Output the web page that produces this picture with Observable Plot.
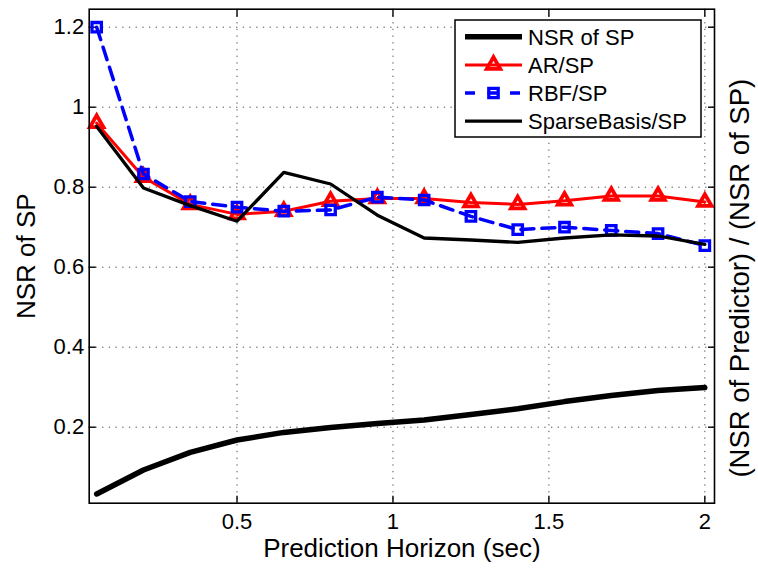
<!DOCTYPE html>
<html><head><meta charset="utf-8">
<script src="https://cdn.jsdelivr.net/npm/d3@7"></script>
<script src="https://cdn.jsdelivr.net/npm/@observablehq/plot@0.6"></script>
<style>
body{margin:0;background:#fff}
svg{font-family:"Liberation Sans",Arial,Helvetica,sans-serif}
</style>
</head><body><div id="chart"></div>
<script>
// ---- data ----
const horizon   = [0.05, 0.2, 0.35, 0.5, 0.65, 0.8, 0.95, 1.1, 1.25, 1.4, 1.55, 1.7, 1.85, 2.0];
const nsrSP     = [0.033, 0.093, 0.137, 0.168, 0.187, 0.199, 0.209, 0.218, 0.232, 0.246, 0.264, 0.279, 0.292, 0.299];
const arSP      = [0.960, 0.825, 0.757, 0.732, 0.740, 0.765, 0.772, 0.772, 0.762, 0.757, 0.766, 0.778, 0.778, 0.763];
const rbfSP     = [1.200, 0.833, 0.764, 0.750, 0.740, 0.743, 0.775, 0.768, 0.727, 0.694, 0.700, 0.692, 0.684, 0.654];
const sparseSP  = [0.952, 0.798, 0.754, 0.715, 0.837, 0.808, 0.730, 0.673, 0.668, 0.662, 0.673, 0.681, 0.678, 0.657];
const seriesNames = ["NSR of SP", "AR/SP", "RBF/SP", "SparseBasis/SP"];
const xTicks = [0.5, 1, 1.5, 2];
const xTickLabels = ["0.5", "1", "1.5", "2"];
const yTicks = [0.2, 0.4, 0.6, 0.8, 1, 1.2];
const yTickLabels = ["0.2", "0.4", "0.6", "0.8", "1", "1.2"];
const xLabel = "Prediction Horizon (sec)";
const yLabel = "NSR of SP";
const y2Label = "(NSR of Predictor) / (NSR of SP)";

// ---- build ----
const W = 758, H = 571;
const rows = ys => horizon.map((x, i) => ({x, y: ys[i]}));
const xFmt = d => xTickLabels[xTicks.indexOf(d)];
const yFmt = d => yTickLabels[yTicks.indexOf(d)];
const gridStyle = {stroke: "#222", strokeOpacity: 0.8, strokeWidth: 1, strokeDasharray: "1.3,5.4"};
const tickStyle = {stroke: "#000", strokeWidth: 1.4, fill: "none", tickFormat: () => "", label: null};
const triR = 5.0, triW = 3.8, sqR = 5.3, sqW = 3.3;

const plot = Plot.plot({
  width: W, height: H,
  marginLeft: 88.7, marginRight: 44, marginTop: 8.7, marginBottom: 68.3,
  x: {domain: [0.026, 2.031], label: null},
  y: {domain: [0.01, 1.245], label: null},
  style: {fontFamily: '"Liberation Sans",Arial,Helvetica,sans-serif', color: "#000", background: "#fff", overflow: "visible"},
  marks: [
    Plot.gridX(xTicks, gridStyle),
    Plot.gridY(yTicks, gridStyle),
    Plot.axisX(xTicks, {anchor: "bottom", tickSize: 0, tickPadding: 10, tickFormat: xFmt, fontSize: 22, label: null}),
    Plot.axisY(yTicks, {anchor: "left", tickSize: 0, tickPadding: 5, tickFormat: yFmt, fontSize: 22, label: null}),
    Plot.axisX(xTicks, {anchor: "bottom", tickSize: 7, insetBottom: 7, ...tickStyle}),
    Plot.axisX(xTicks, {anchor: "top", tickSize: 7, insetTop: 7, ...tickStyle}),
    Plot.axisY(yTicks, {anchor: "left", tickSize: 7, insetLeft: 7, ...tickStyle}),
    Plot.axisY(yTicks, {anchor: "right", tickSize: 7, insetRight: 7, ...tickStyle}),
    Plot.line(rows(nsrSP), {x: "x", y: "y", stroke: "#000", strokeWidth: 5.5}),
    Plot.line(rows(arSP), {x: "x", y: "y", stroke: "#ff0000", strokeWidth: 3}),
    Plot.dot(rows(arSP), {x: "x", y: "y", symbol: "triangle", r: triR, stroke: "#ff0000", strokeWidth: triW, fill: "none"}),
    Plot.line(rows(rbfSP), {x: "x", y: "y", stroke: "#0000ff", strokeWidth: 3.5, strokeDasharray: "13,8"}),
    Plot.dot(rows(rbfSP), {x: "x", y: "y", symbol: "square", r: sqR, stroke: "#0000ff", strokeWidth: sqW, fill: "none"}),
    Plot.line(rows(sparseSP), {x: "x", y: "y", stroke: "#000", strokeWidth: 3.3}),
    Plot.frame({stroke: "#000", strokeWidth: 1.6}),
    Plot.text([xLabel], {frameAnchor: "bottom", text: d => d, dy: 45.5, textAnchor: "middle", lineAnchor: "middle", fontSize: 26, fill: "#000"}),
    Plot.text([yLabel], {frameAnchor: "left", text: d => d, dx: -63, rotate: -90, textAnchor: "middle", lineAnchor: "middle", fontSize: 26, fill: "#000"}),
    Plot.text([y2Label], {frameAnchor: "right", text: d => d, dx: 26, dy: 22, rotate: -90, textAnchor: "middle", lineAnchor: "middle", fontSize: 27.5, fill: "#000"})
  ]
});
document.getElementById("chart").appendChild(plot);

// ---- legend (decoration, drawn in the same svg) ----
const svg = d3.select(plot);
const lg = svg.append("g").attr("aria-label", "legend").attr("text-anchor", "start");
lg.append("rect").attr("x", 455).attr("y", 20).attr("width", 246).attr("height", 117)
  .attr("fill", "#fff").attr("stroke", "#000").attr("stroke-width", 1.5);
const legendStyles = [
  {stroke: "#000", w: 5.5},
  {stroke: "#ff0000", w: 3, marker: "triangle"},
  {stroke: "#0000ff", w: 3.5, dash: "10,12.5", marker: "square"},
  {stroke: "#000", w: 3.3}
];
seriesNames.forEach((name, i) => {
  const yy = 36.8 + i * 28.1, s = legendStyles[i];
  lg.append("line").attr("x1", 465).attr("x2", 522).attr("y1", yy).attr("y2", yy)
    .attr("stroke", s.stroke).attr("stroke-width", s.w).attr("stroke-dasharray", s.dash || null);
  if (s.marker === "triangle") {
    lg.append("path").attr("d", d3.symbol(d3.symbolTriangle, Math.PI * triR * triR)())
      .attr("transform", `translate(493.5,${yy})`).attr("fill", "none").attr("stroke", s.stroke).attr("stroke-width", triW);
  } else if (s.marker === "square") {
    lg.append("path").attr("d", d3.symbol(d3.symbolSquare, Math.PI * sqR * sqR)())
      .attr("transform", `translate(493.5,${yy})`).attr("fill", "none").attr("stroke", s.stroke).attr("stroke-width", sqW);
  }
  lg.append("text").attr("x", 528).attr("y", yy).attr("dy", "0.35em")
    .attr("text-anchor", "start").attr("font-size", 22).attr("fill", "#000").text(name);
});
</script>
</body></html>
